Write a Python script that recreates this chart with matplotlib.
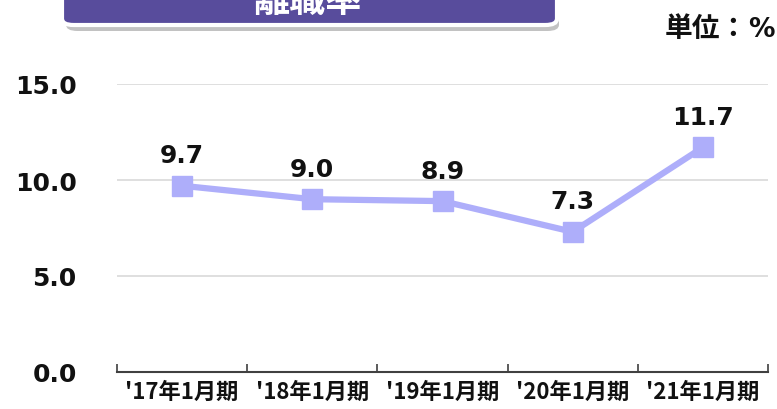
import matplotlib
matplotlib.use("Agg")
import matplotlib.pyplot as plt
from matplotlib.patches import FancyBboxPatch

categories = ["'17年1月期", "'18年1月期", "'19年1月期", "'20年1月期", "'21年1月期"]
values = [9.7, 9.0, 8.9, 7.3, 11.7]
yticks = [0.0, 5.0, 10.0, 15.0]
title = "離職率"
unit_label = "単位："
unit_sign = "%"

W, H = 777, 410
fig = plt.figure(figsize=(W / 100, H / 100), dpi=100)
fig.patch.set_facecolor("white")

def fx(px):
    return px / W

def fy(py):
    return 1 - py / H

ax = fig.add_axes([fx(117), fy(373), fx(768) - fx(117), fy(85) - fy(373)])
x = list(range(len(categories)))
ax.plot(x, values, color="#AEAEFA", lw=4.5, marker="s", markersize=14.5,
        markerfacecolor="#AEAEFA", markeredgecolor="#AEAEFA", zorder=3)

for xi, v in zip(x, values):
    ax.annotate(f"{v:.1f}", (xi, v), xytext=(0, 17), textcoords="offset points",
                ha="center", va="baseline", fontsize=18, fontweight="bold",
                family="DejaVu Sans", color="#111111")

ax.set_xlim(-0.5, len(categories) - 0.5)
ax.set_ylim(0, 15)
ax.set_yticks(yticks)
ax.set_yticklabels([f"{t:.1f}" for t in yticks], fontsize=18, fontweight="bold",
                   family="DejaVu Sans", color="#111111")
ax.tick_params(axis="y", length=0, pad=29)
ax.yaxis.grid(True, color="#D9D9D9", lw=1.2)
ax.set_axisbelow(True)

ax.set_xticks(x)
ax.set_xticklabels(categories, fontsize=16, fontweight="bold",
                   family=["Noto Sans CJK JP", "DejaVu Sans"], color="#111111")
ax.set_xticks([i - 0.5 for i in range(len(categories) + 1)], minor=True)
ax.tick_params(axis="x", which="major", length=0, pad=6)
ax.tick_params(axis="x", which="minor", direction="in", length=6, width=1.2, color="#404040")

for s in ["top", "right", "left"]:
    ax.spines[s].set_visible(False)
ax.spines["bottom"].set_color("#404040")
ax.spines["bottom"].set_linewidth(1.5)

# Title box with shadow
shadow = FancyBboxPatch((fx(66), fy(32)), fx(559) - fx(66), 0.3,
                        boxstyle="round,pad=0,rounding_size=0.015",
                        transform=fig.transFigure, facecolor="#9A9A9A", edgecolor="none",
                        alpha=0.6, zorder=1)
fig.add_artist(shadow)
box = FancyBboxPatch((fx(62), fy(26)), fx(557) - fx(62), 0.3,
                     boxstyle="round,pad=0,rounding_size=0.015",
                     transform=fig.transFigure, facecolor="#584C9C", edgecolor="white",
                     linewidth=3, zorder=2)
fig.add_artist(box)
fig.text(fx(308), fy(1), title, ha="center", va="center", fontsize=26, fontweight="bold",
         family=["Noto Sans CJK JP", "DejaVu Sans"], color="white", zorder=3)

fig.text(fx(775), fy(37), unit_sign, ha="right", va="baseline", fontsize=19, fontweight="bold",
         family="DejaVu Sans", color="#111111")
fig.text(fx(748), fy(37), unit_label, ha="right", va="baseline", fontsize=20, fontweight="bold",
         family=["Noto Sans CJK JP", "DejaVu Sans"], color="#111111")

fig.savefig("out.png", dpi=100, facecolor="white")
